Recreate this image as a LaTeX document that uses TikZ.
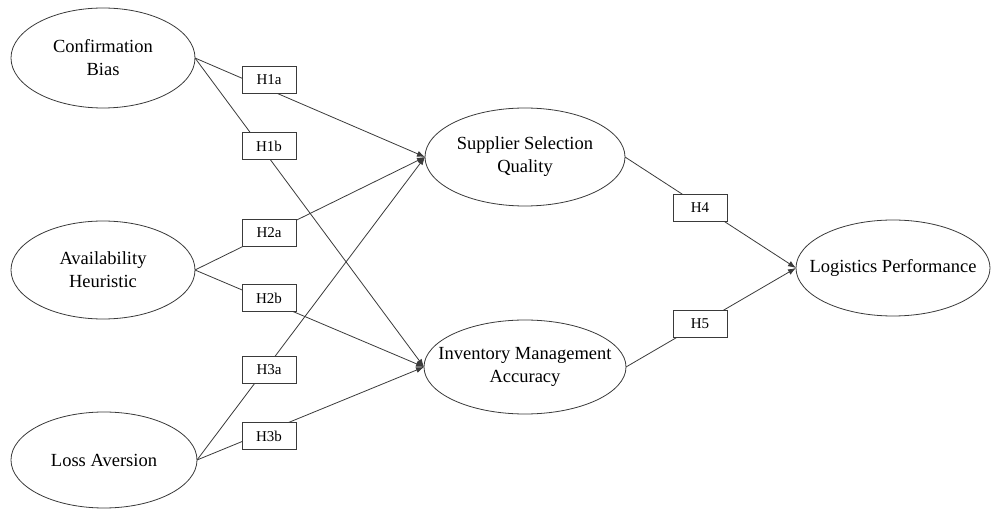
\documentclass[tikz,border=0pt]{standalone}
\usepackage{fontspec}
\setmainfont{Liberation Serif}
\usetikzlibrary{arrows.meta,shapes.geometric}
\definecolor{PathGray}{HTML}{3A3A3A}
\begin{document}
\begin{tikzpicture}[
  x=1pt,y=-1pt,
  construct/.style={draw=PathGray,ellipse,fill=white,line width=0.8pt,inner xsep=-30pt,inner ysep=0pt,outer sep=0pt,align=center,font=\fontsize{18.5}{23}\selectfont},
  hyp/.style={draw=PathGray,fill=white,line width=0.8pt,minimum width=54pt,minimum height=27pt,inner sep=0pt,font=\fontsize{15}{18}\selectfont},
  arrow/.style={-{Latex[length=8pt,width=6pt]},draw=PathGray,line width=0.8pt}
]
\useasboundingbox (0,0) rectangle (991,510);
\node[construct,minimum width=184pt,minimum height=100pt] (conf) at (103,58) {Confirmation\\Bias};
\node[construct,minimum width=184pt,minimum height=98pt] (avail) at (103,270) {Availability\\Heuristic};
\node[construct,minimum width=186pt,minimum height=96pt] (loss) at (104,460) {Loss Aversion};
\node[construct,minimum width=200pt,minimum height=98pt] (supp) at (525,157) {Supplier Selection\\Quality};
\node[construct,minimum width=202pt,minimum height=94pt] (inv) at (525,367) {Inventory Management\\Accuracy};
\node[construct,minimum width=194pt,minimum height=96pt] (logi) at (893,268) {Logistics Performance};
\draw[arrow] (conf.east)--(supp.west);
\draw[arrow] (conf.east)--(inv.west);
\draw[arrow] (avail.east)--(supp.west);
\draw[arrow] (avail.east)--(inv.west);
\draw[arrow] (loss.east)--(supp.west);
\draw[arrow] (loss.east)--(inv.west);
\draw[arrow] (supp.east)--(logi.west);
\draw[arrow] (inv.east)--(logi.west);
\node[hyp] (h1a) at (269,80) {H1a};
\node[hyp] (h1b) at (269,146) {H1b};
\node[hyp] (h2a) at (269,233) {H2a};
\node[hyp] (h2b) at (269,298) {H2b};
\node[hyp] (h3a) at (269,370) {H3a};
\node[hyp] (h3b) at (269,436) {H3b};
\node[hyp] (h4) at (700,208) {H4};
\node[hyp] (h5) at (700,324) {H5};
\end{tikzpicture}
\end{document}
